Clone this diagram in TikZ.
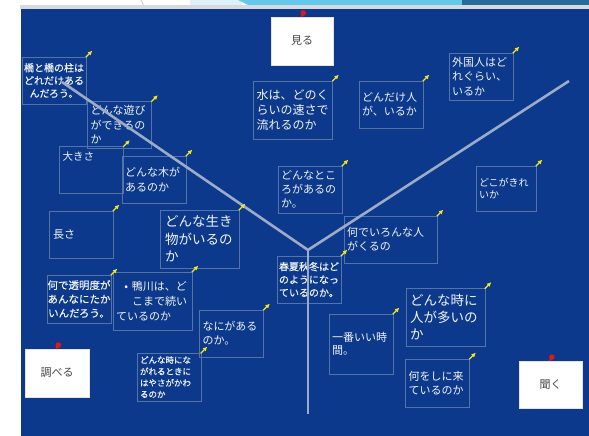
\documentclass[tikz,border=0pt]{standalone}
\usepackage{fontspec}
\setmainfont{Noto Sans CJK JP}
\newfontfamily\semibold[FakeBold=0.3]{Noto Sans CJK JP}
\usetikzlibrary{arrows.meta}
\definecolor{panelblue}{RGB}{12,57,139}
\definecolor{noteline}{RGB}{84,116,168}
\definecolor{branchgray}{RGB}{156,172,200}
\definecolor{pinyellow}{RGB}{250,232,30}
\definecolor{pinred}{RGB}{226,22,22}
\definecolor{labelgray}{RGB}{70,70,70}
\definecolor{strippale}{RGB}{222,241,250}
\definecolor{stripblue}{RGB}{98,200,236}
\definecolor{stripdark}{RGB}{38,106,158}
\tikzset{%
  >={Latex[length=4.5pt,width=4.5pt]},
  note/.style={draw=noteline,line width=0.7pt,text=white!94!panelblue,align=left,
    inner xsep=3pt,inner ysep=1pt,minimum width=64pt,minimum height=47pt,
    text width=58pt,font=\fontsize{11}{14.5}\selectfont},
  big note/.style={note,minimum width=79pt,minimum height=58pt,text width=73pt,
    font=\fontsize{13.5}{17.5}\selectfont},
  small note/.style={note,font=\semibold\fontsize{10}{12.8}\selectfont},
  tag/.style={draw=white!78!gray,fill=white,line width=0.7pt,
    minimum width=63pt,minimum height=48pt,text=labelgray,
    font=\fontsize{11}{13}\selectfont},
  branch/.style={draw=branchgray,line width=2.6pt,line join=round},
  idea arrow/.style={->,draw=pinyellow,line width=1.3pt}
}

\begin{document}
\begin{tikzpicture}[x=1pt,y=-1pt]
\useasboundingbox (0,0) rectangle (589,436);
\fill[white] (0,0) rectangle (589,436);

% top strip and board
\draw[strippale!70!gray,line width=0.8pt] (141,0) -- (143.5,5);
\fill[strippale] (190,0) rectangle (242,5);
\fill[stripblue] (238,0) -- (462,0) -- (462,5) -- (248,5) -- cycle;
\fill[stripdark] (462,0) rectangle (589,5);
\fill[gray!30] (20,5) rectangle (589,9);
\fill[panelblue] (21,9) rectangle (589,436);

% sticky notes
\node[small note,align=center,inner xsep=1pt,text width=62pt] (hashi) at (54,80.5)
  {橋と橋の柱は\\どれだけある\\んだろう。};
\node[note] (asobi) at (119.5,125) {どんな遊び\\ができるの\\か};
\node[note,text depth=28pt,font=\fontsize{10.5}{13}\selectfont] (ookisa) at (91.5,170) {大きさ};
\node[note] (ki) at (154,179.5) {どんな木が\\あるのか};
\node[note,inner xsep=4pt,text width=56pt] (nagasa) at (81,234.5) {長さ};
\node[big note,inner xsep=5pt,text width=69pt] (ikimono) at (199.5,239) {どんな生き\\物がいるの\\か};
\node[big note,font=\fontsize{12}{15}\selectfont] (mizu) at (293,110) {水は、どのく\\らいの速さで\\流れるのか};
\node[note,font=\fontsize{11}{14}\selectfont] (dondake) at (391,104.5) {どんだけ人\\が、いるか};
\node[note] (gaikoku) at (481,76.5) {外国人はど\\れぐらい、\\いるか};
\node[note,font=\fontsize{11}{14}\selectfont] (tokoro) at (310,189.5) {どんなとこ\\ろがあるの\\か。};
\node[note,minimum width=60pt,minimum height=45pt,text width=54pt,
  font=\fontsize{10}{12.3}\selectfont] (kirei) at (506,188.5) {どこがきれ\\いか};
\node[note,minimum width=93pt,text width=87pt,font=\fontsize{11}{14}\selectfont] (iron) at (390.5,239.5)
  {何でいろんな人\\がくるの};
\node[small note,align=center,inner xsep=0pt,text width=64pt,minimum height=48pt,
  font=\semibold\fontsize{10.5}{14}\selectfont] (toumei) at (79,299)
  {何で透明度が\\あんなにたか\\いんだろう。};
\node[big note,font=\fontsize{11}{15}\selectfont] (kamo) at (152.5,301)
  {\leftskip=16pt\llap{\textbullet\hspace{4pt}}鴨川は、ど\\こまで続い\\ているのか};
\node[note,font=\fontsize{11}{14}\selectfont] (naniga) at (231.5,333.5) {なにがある\\のか。};
\node[small note,minimum height=48pt,font=\semibold\fontsize{8.5}{11.4}\selectfont] (nagareru) at (169,377)
  {どんな時にな\\がれるときに\\はやさがかわ\\るのか};
\node[small note,inner xsep=2pt,text width=60pt,font=\semibold\fontsize{10}{13}\selectfont] (shunka) at (309,279.5)
  {春夏秋冬はど\\のようになっ\\ているのか。};
\node[note,minimum height=60pt,font=\fontsize{11}{13.5}\selectfont] (ichiban) at (361,344) {一番いい時\\間。};
\node[big note,inner xsep=4pt,text width=71pt,font=\fontsize{13.5}{17}\selectfont] (ooi) at (445.5,317.5)
  {どんな時に\\人が多いの\\か};
\node[note,minimum height=48pt,font=\fontsize{11}{13.5}\selectfont] (nanishi) at (437.5,383) {何をしに来\\ているのか};

% branches of the Y
\coordinate (left end) at (62,82);
\coordinate (fork) at (308,250);
\coordinate (right end) at (569,81);
\coordinate (stem end) at (308,414);
\draw[branch] (left end) -- (fork) -- (right end);
\draw[branch] (fork) -- (stem end);

% yellow arrows on the notes
\foreach \n in {hashi,asobi,ookisa,ki,nagasa,ikimono,mizu,dondake,gaikoku,tokoro,
  kirei,iron,toumei,kamo,naniga,nagareru,shunka,ichiban,ooi,nanishi}
  \draw[idea arrow] ([shift={(-0.5,0.5)}]\n.north east) -- ++(6.5,-6.5);

% headings
\node[tag,minimum width=62pt] (miru) at (302,41) {見る};
\node[tag,minimum width=64pt] (shiraberu) at (57,373) {調べる};
\node[tag,minimum height=47pt] (kiku) at (550.5,384.5) {聞く};

\foreach \t in {miru,shiraberu,kiku} {
  \draw[pinred,line width=1.6pt] ([shift={(-0.8,0.3)}]\t.north) -- ([shift={(1,-3)}]\t.north);
  \fill[pinred] ([shift={(1.3,-3.6)}]\t.north) circle (2.8pt);
}
\end{tikzpicture}
\end{document}
